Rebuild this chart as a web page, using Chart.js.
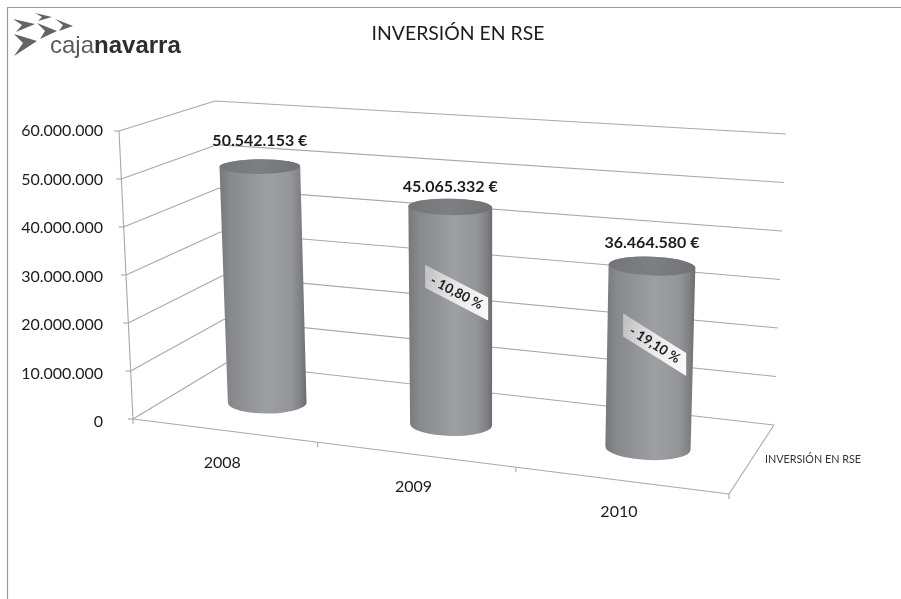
<!DOCTYPE html>
<html>
<head>
<meta charset="utf-8">
<style>html,body{margin:0;padding:0;background:#fff}canvas{display:block}</style>
<script src="https://cdn.jsdelivr.net/npm/chart.js@4"></script>
</head>
<body>
<canvas id="c" width="901" height="599"></canvas>
<script>
const categories = ["2008", "2009", "2010"];
const investment = [50542153, 45065332, 36464580];
const changeLabels = [null, "- 10,80 %", "- 19,10 %"];
const chartTitle = "INVERSIÓN EN RSE";
const seriesName = "INVERSIÓN EN RSE";
const yMax = 60000000;
const yStep = 10000000;

const FONT = "Lato";
const fmt = n => String(n).replace(/\B(?=(\d{3})+$)/g, ".");

// 3D frame: floor homography corners + height vectors
const floor = [[133,419],[729,494],[774,425],[226,363]];
const H = (() => {
  const [p0,p1,p2,p3] = floor;
  const sx=p0[0]-p1[0]+p2[0]-p3[0], sy=p0[1]-p1[1]+p2[1]-p3[1];
  const dx1=p1[0]-p2[0], dx2=p3[0]-p2[0], dy1=p1[1]-p2[1], dy2=p3[1]-p2[1];
  const det=dx1*dy2-dx2*dy1;
  const g=(sx*dy2-dx2*sy)/det, h=(dx1*sy-sx*dy1)/det;
  return {a:p1[0]-p0[0]+g*p1[0], b:p3[0]-p0[0]+h*p3[0], c:p0[0],
          d:p1[1]-p0[1]+g*p1[1], e:p3[1]-p0[1]+h*p3[1], f:p0[1], g, h};
})();
function project(u, d, v) {
  const w = 1 + H.g*u + H.h*d;
  const x = (H.a*u + H.b*d + H.c)/w;
  const y = (H.d*u + H.e*d + H.f)/w;
  const hx = -14 + 23*u + 3*d;
  const hy = -288 - 29*u + 26*d;
  return [x + v*hx, y + v*hy];
}

const DEPTH = 0.48;
const CYL_DY = 1.5;
const labelDy = [-18, -12, -14];
const boxSlope = [0, 0.52, 0.63];
const boxAt = [0, 0.6, 0.56];
const boxDx = [0, 6, 4.5];

const scene = {
  id: "scene",
  beforeDatasetsDraw(chart) {
    const ctx = chart.ctx, y = chart.scales.y;
    const top = y.top, bot = y.bottom;
    const vOf = px => (bot - px) / (bot - top);
    ctx.save();
    // page frame
    ctx.strokeStyle = "#9b9b9b"; ctx.lineWidth = 1.2;
    ctx.beginPath(); ctx.moveTo(901,7.5); ctx.lineTo(7.5,7.5); ctx.lineTo(7.5,599); ctx.stroke();
    // grid
    ctx.strokeStyle = "#a8a8aa"; ctx.lineWidth = 1.1;
    const line = (a,b) => { ctx.beginPath(); ctx.moveTo(a[0],a[1]); ctx.lineTo(b[0],b[1]); ctx.stroke(); };
    y.ticks.forEach(t => {
      const v = vOf(y.getPixelForValue(t.value));
      const a = project(0,0,v), b = project(0,1,v), c = project(1,1,v);
      line(a,b); line(b,c);
      line([a[0]-5,a[1]], a);
    });
    line(project(0,0,0), project(0,0,1));
    line(project(0,0,0), project(1,0,0));
    line(project(1,0,0), project(1,1,0));
    [0,1/3,2/3,1].forEach(u => { const p = project(u,0,0); line(p,[p[0],p[1]+5]); });
    ctx.restore();
    drawLogo(ctx);
  },
  beforeDatasetDraw() { return false; },
  afterDatasetsDraw(chart) {
    const ctx = chart.ctx, xs = chart.scales.x, y = chart.scales.y;
    const meta = chart.getDatasetMeta(0);
    meta.data.forEach((el, i) => {
      const u = (el.x - xs.left) / (xs.right - xs.left);
      const v = (y.bottom - el.y) / (y.bottom - y.top);
      const B = project(u, DEPTH, 0), T = project(u, DEPTH, v);
      B[1] += CYL_DY; T[1] += CYL_DY;
      const rxB = 38.5 + 5*u, rxT = rxB + v*1.2;
      const ryB = 10.5 + 1.5*u, ryT = 11 + 1.5*u - 4.7*v;
      const rotB = (-0.8 + 4*u)*Math.PI/180, rotT = (-1 + 4*u)*Math.PI/180;
      const x0 = Math.min(B[0]-rxB, T[0]-rxT), x1 = Math.max(B[0]+rxB, T[0]+rxT);
      const g = ctx.createLinearGradient(x0,0,x1,0);
      g.addColorStop(0,"#77787b"); g.addColorStop(.12,"#87888b"); g.addColorStop(.3,"#919295");
      g.addColorStop(.55,"#9e9fa2"); g.addColorStop(.82,"#949598"); g.addColorStop(.93,"#808184"); g.addColorStop(1,"#6c6d70");
      ctx.save();
      ctx.fillStyle = g;
      ctx.beginPath();
      ctx.moveTo(T[0]+rxT, T[1]);
      ctx.ellipse(B[0],B[1],rxB,ryB,rotB,0,Math.PI);
      ctx.lineTo(T[0]-rxT, T[1]);
      ctx.ellipse(T[0],T[1],rxT,ryT,rotT,Math.PI,2*Math.PI);
      ctx.closePath(); ctx.fill();
      const gt = ctx.createLinearGradient(T[0]-rxT,0,T[0]+rxT,0);
      gt.addColorStop(0,"#747578"); gt.addColorStop(.5,"#7e7f82"); gt.addColorStop(1,"#717275");
      ctx.fillStyle = gt;
      ctx.beginPath(); ctx.ellipse(T[0],T[1],rxT,ryT,rotT,0,2*Math.PI); ctx.fill();

      // value label
      ctx.fillStyle = "#1c1c1c";
      ctx.font = "bold 16px " + FONT;
      ctx.textAlign = "center"; ctx.textBaseline = "middle";
      ctx.fillText(fmt(investment[i]) + " €", T[0], T[1]-ryT+labelDy[i]);

      // change box
      if (changeLabels[i]) {
        const C = project(u, DEPTH, v*boxAt[i]);
        const cx = C[0]+boxDx[i], cy = C[1], s = boxSlope[i], hw = 31.5, hh = 11.5;
        const bg = ctx.createLinearGradient(cx-hw,cy-hh,cx+hw,cy+hh);
        bg.addColorStop(0,"#c4c4c6"); bg.addColorStop(.45,"#e8e8e8"); bg.addColorStop(1,"#f8f8f8");
        ctx.fillStyle = bg;
        ctx.beginPath();
        ctx.moveTo(cx-hw,cy-hw*s-hh); ctx.lineTo(cx+hw,cy+hw*s-hh);
        ctx.lineTo(cx+hw,cy+hw*s+hh); ctx.lineTo(cx-hw,cy-hw*s+hh);
        ctx.closePath(); ctx.fill();
        ctx.translate(cx,cy); ctx.rotate(Math.atan(s));
        ctx.fillStyle = "#1c1c1c"; ctx.font = "bold 13.5px " + FONT;
        ctx.fillText(changeLabels[i],0,0);
      }
      ctx.restore();

      // category label
      const L = project(u,0,0);
      ctx.save();
      ctx.fillStyle = "#1c1c1c"; ctx.font = "16px " + FONT;
      ctx.textAlign = "center"; ctx.textBaseline = "middle";
      ctx.fillText(categories[i], L[0]-1.5, L[1]+32);
      ctx.restore();
    });
    ctx.save();
    ctx.fillStyle = "#1c1c1c"; ctx.textAlign = "center"; ctx.textBaseline = "middle";
    ctx.font = "19.4px " + FONT;
    ctx.fillText(chartTitle, 458, 33.5);
    ctx.fillStyle = "#333"; ctx.font = "10.8px " + FONT;
    ctx.fillText(seriesName, 813, 459.5);
    ctx.restore();
  }
};

function drawLogo(ctx) {
  const arrows = [
    [[35,13],[52,17],[38,21],[42,17]],
    [[55,19],[73,26],[59,31],[63,25]],
    [[13,19],[35,24],[16,32],[22,25]],
    [[37,23],[57,31],[40,39],[45,31]],
    [[14,34],[37,41],[14,56],[23,43]]
  ];
  ctx.save();
  ctx.fillStyle = "#636466";
  arrows.forEach(a => {
    ctx.beginPath(); a.forEach((p,i)=> i?ctx.lineTo(p[0],p[1]):ctx.moveTo(p[0],p[1]));
    ctx.closePath(); ctx.fill();
  });
  ctx.textBaseline = "alphabetic"; ctx.textAlign = "left";
  ctx.font = "24px 'Liberation Sans'";
  ctx.fillStyle = "#5a5b5d";
  ctx.fillText("caja", 50, 52.5);
  const w = ctx.measureText("caja").width;
  ctx.font = "bold 24px 'Liberation Sans'";
  ctx.fillStyle = "#2e2e30";
  ctx.fillText("navarra", 50 + w, 52.5);
  ctx.restore();
}

new Chart(document.getElementById("c"), {
  type: "bar",
  data: { labels: categories, datasets: [{ label: seriesName, data: investment, backgroundColor: "#8f9093" }] },
  plugins: [scene],
  options: {
    responsive: false,
    animation: false,
    layout: { padding: { top: 131, bottom: 177, left: 0, right: 115 } },
    plugins: { legend: { display: false }, title: { display: false }, tooltip: { enabled: false } },
    scales: {
      x: { display: false },
      y: {
        min: 0, max: yMax,
        afterFit(s) { s.width = 115; },
        grid: { display: false, drawTicks: false },
        border: { display: false },
        ticks: {
          stepSize: yStep, padding: 12, color: "#1c1c1c",
          font: { family: FONT, size: 16 },
          callback: v => fmt(v)
        }
      }
    }
  }
});
</script>
</body>
</html>
